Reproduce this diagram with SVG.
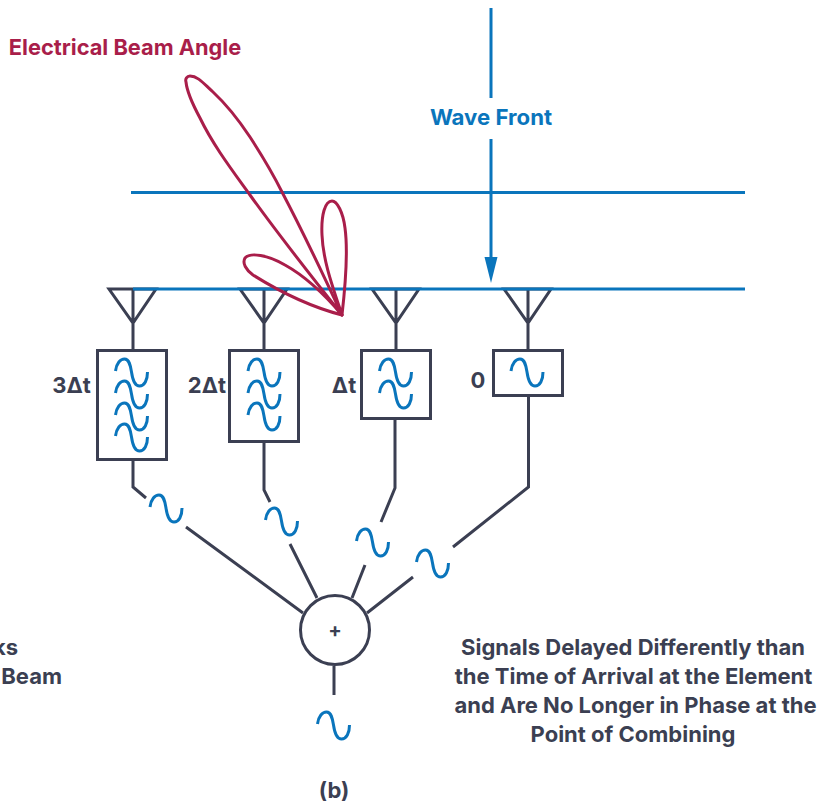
<svg xmlns="http://www.w3.org/2000/svg" width="828" height="807" viewBox="0 0 828 807">
<style>
text{font-family:"Inter","Liberation Sans",sans-serif;font-weight:700;text-anchor:middle}
.d{fill:#3b3f52;font-size:22px}
.b{fill:#0a75bc;font-size:22.200px}
.r{fill:#a91e4a;font-size:21.800px}
.k{fill:none;stroke:#3b3f52;stroke-width:3}
.bl{fill:none;stroke:#0a75bc;stroke-width:3}
.lobe{fill:none;stroke:#a91e4a;stroke-width:3;stroke-linejoin:round}
.s{fill:none;stroke:#0a75bc;stroke-width:3}
.box{fill:#fff;stroke:#3b3f52;stroke-width:3}
</style>
<defs>
<path id="w" d="M0 13C1 5 5 1 9 1C14 1 15 8 16 14C17 21 19 28 24 28C29 28 32 22 32 14"/>
<path id="ant" d="M-24 0H23L0 34ZM0 0V61"/>
</defs>
<g id="element-3"><use href="#ant" class="k" x="133" y="289"/><rect class="box" x="97.500" y="350.500" width="69" height="109"/>
<use href="#w" class="s" x="115.500" y="358"/><use href="#w" class="s" x="115.500" y="380"/><use href="#w" class="s" x="115.500" y="402"/><use href="#w" class="s" x="115.500" y="423"/>
<text class="d" x="71.500" y="393">3Δt</text></g>
<g id="element-2"><use href="#ant" class="k" x="264" y="289"/><rect class="box" x="229.500" y="350.500" width="69" height="91"/>
<use href="#w" class="s" x="248" y="358"/><use href="#w" class="s" x="248" y="380"/><use href="#w" class="s" x="248" y="402"/>
<text class="d" x="207" y="393">2Δt</text></g>
<g id="element-1"><use href="#ant" class="k" x="396" y="289"/><rect class="box" x="361.500" y="350.500" width="69" height="68"/>
<use href="#w" class="s" x="379.500" y="358"/><use href="#w" class="s" x="379.500" y="380"/>
<text class="d" x="344" y="393">Δt</text></g>
<g id="element-0"><use href="#ant" class="k" x="528" y="289"/><rect class="box" x="493.500" y="350.500" width="69" height="45"/>
<use href="#w" class="s" x="511" y="358"/>
<text class="d" x="478" y="388">0</text></g>
<g id="wavefront">
<path class="bl" d="M131 192.500H745M133 289H745"/>
<path class="bl" d="M491 8V98M491 139V260"/>
<path fill="#0a75bc" d="M484.500 257H497.500L491 283Z"/>
<text class="b" x="491" y="125">Wave Front</text>
</g>
<g id="connectors">
<path class="k" d="M133 460V487L146 498M186 527L303 613"/>
<path class="k" d="M264 442V490L270 502M290 544L317 598"/>
<path class="k" d="M395 419V488L381 522M365 565L352 598"/>
<path class="k" d="M528.500 396V487L453 547M413 577L367 613"/>
<path class="k" d="M334 666V695"/>
</g>
<g id="signals">
<use href="#w" class="s" x="150" y="494"/><use href="#w" class="s" x="265.500" y="507"/><use href="#w" class="s" x="356.500" y="528"/><use href="#w" class="s" x="416.500" y="549"/><use href="#w" class="s" x="317.500" y="711"/>
</g>
<g id="combiner"><circle class="box" cx="335" cy="630" r="34.500"/><text class="d" x="335" y="637" style="font-size:20px">+</text></g>
<g id="beam">
<path class="lobe" d="M342 315C322 272 302 230 282 192C272 172 261 154 250 137C240 122 226 104 213 92C204 84 198 76 190 76C187 76 185 79 186 82C187 92 193 105 200 118C213 145 232 170 250 195C280 237 312 277 342 315Z"/>
<path class="lobe" d="M342 315C346 280 348 250 345 228C343 212 337 201 332 201C325 201 321 215 322 235C323 260 332 285 342 315Z"/>
<path class="lobe" d="M342 315C315 308 285 295 253 275C246 270 242 263 245 258C250 252 268 255 285 265C305 276 325 295 342 315Z"/>
<text class="r" x="125" y="55">Electrical Beam Angle</text>
</g>
<g id="labels">
<text class="d" x="18" y="655" style="text-anchor:end">ks</text>
<text class="d" x="62" y="684" style="text-anchor:end">Beam</text>
<text class="d" x="633" y="655">Signals Delayed Differently than</text>
<text class="d" x="633.500" y="684">the Time of Arrival at the Element</text>
<text class="d" x="635.500" y="713">and Are No Longer in Phase at the</text>
<text class="d" x="633" y="742">Point of Combining</text>
<text class="d" x="334" y="798">(b)</text>
</g>
</svg>
